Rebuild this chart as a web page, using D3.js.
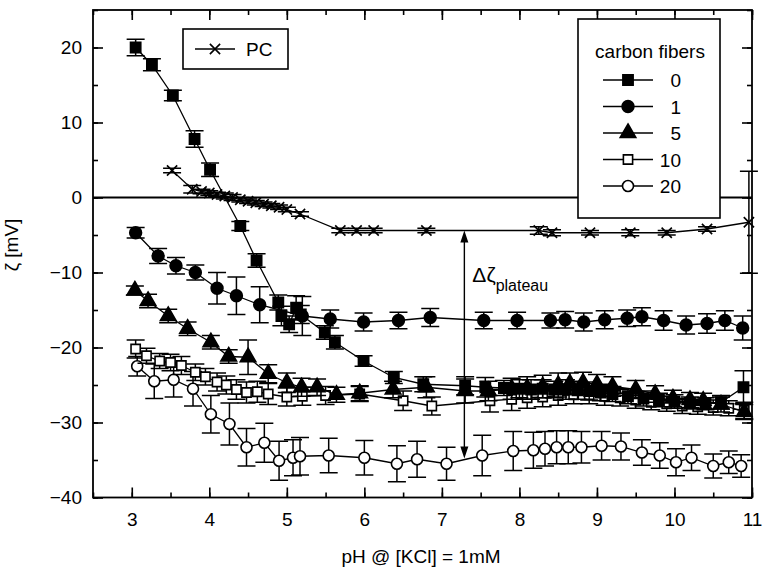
<!DOCTYPE html>
<html>
<head>
<meta charset="utf-8">
<script src="https://cdn.jsdelivr.net/npm/d3@7"></script>
<style>
body { margin: 0; background: #fff; }
text { font-family: "Liberation Sans", Arial, sans-serif; fill: #000; }
</style>
</head>
<body>
<script>
// data: pH, zeta [mV], error [mV]
var ph0 = [3.05,3.26,3.53,3.81,4.01,4.40,4.61,4.89,4.93,5.03,5.12,5.18,5.49,5.62,5.99,6.38,6.76,7.30,7.56,7.80,8.00,8.15,8.30,8.45,8.60,8.75,8.90,9.05,9.20,9.40,9.60,9.80,10.00,10.20,10.40,10.60,10.89];
var zeta0 = [20.0,17.7,13.6,7.8,3.7,-3.8,-8.4,-14.0,-15.8,-16.9,-14.7,-15.6,-18.0,-19.3,-21.8,-24.0,-24.9,-25.1,-25.3,-25.4,-25.5,-25.6,-25.5,-25.6,-25.6,-25.7,-25.8,-26.0,-26.2,-26.5,-26.8,-27.0,-27.2,-27.4,-27.5,-27.3,-25.3];
var err0 = [1.1,0.8,0.7,1.1,0.9,0.6,0.9,1.0,1.3,1.1,1.6,1.2,0.9,0.9,0.7,0.8,1.0,1.2,1.3,1.0,1.2,1.3,1.2,1.1,1.3,1.2,1.2,1.1,1.0,1.0,1.0,0.9,0.9,0.8,0.8,0.9,2.2];

var ph1 = [3.05,3.34,3.57,3.82,4.10,4.35,4.65,5.20,5.56,5.99,6.44,6.85,7.54,7.97,8.40,8.59,8.83,9.10,9.39,9.58,9.86,10.15,10.42,10.65,10.88];
var zeta1 = [-4.7,-7.8,-9.1,-10.0,-12.1,-13.1,-14.3,-15.8,-16.2,-16.6,-16.4,-16.0,-16.4,-16.4,-16.4,-16.3,-16.6,-16.3,-16.1,-15.9,-16.4,-17.0,-16.8,-16.4,-17.4];
var err1 = [0.7,1.0,1.1,1.0,2.1,2.5,2.4,2.6,1.2,1.2,1.1,1.2,1.1,1.1,1.0,1.1,1.2,1.2,1.1,1.2,1.3,1.2,1.3,1.3,1.6];

var ph5 = [3.04,3.21,3.47,3.72,4.02,4.25,4.50,4.76,5.00,5.19,5.39,5.64,5.94,6.37,6.80,7.30,7.60,7.90,8.10,8.30,8.50,8.65,8.82,9.00,9.20,9.50,9.75,9.98,10.20,10.37,10.60,10.90];
var zeta5 = [-12.4,-13.8,-15.8,-17.5,-19.3,-21.2,-21.3,-23.5,-24.7,-25.3,-25.3,-26.3,-26.1,-25.6,-25.3,-25.8,-25.8,-25.5,-25.4,-25.2,-25.0,-24.8,-24.7,-24.9,-25.2,-25.6,-26.2,-26.8,-27.0,-27.1,-27.6,-28.6];
var err5 = [0.6,0.9,0.9,0.9,0.9,0.9,2.3,1.2,1.3,1.2,1.1,1.0,1.0,1.1,1.4,1.6,1.3,1.4,1.5,1.5,1.6,1.4,1.4,1.3,1.3,1.2,1.1,1.1,1.0,1.0,1.0,1.0];

var ph10 = [3.05,3.19,3.36,3.50,3.64,3.82,3.95,4.10,4.22,4.35,4.48,4.62,4.76,5.00,5.20,5.50,5.94,6.50,6.87,7.62,7.90,8.10,8.30,8.50,8.70,8.90,9.10,9.30,9.50,9.70,9.90,10.10,10.30,10.50,10.70,10.90];
var zeta10 = [-20.2,-21.1,-21.8,-22.0,-22.4,-23.3,-23.9,-24.6,-25.0,-25.6,-26.0,-25.9,-26.2,-26.6,-26.5,-26.4,-26.2,-27.1,-27.8,-27.1,-26.9,-26.7,-26.6,-26.4,-26.3,-26.3,-26.5,-26.7,-27.0,-27.3,-27.5,-27.8,-27.9,-28.0,-28.1,-28.4];
var err10 = [1.2,1.0,1.0,1.1,1.2,1.1,1.1,1.2,1.2,1.3,1.4,1.4,1.4,1.2,1.2,1.2,1.0,1.3,1.2,1.5,1.5,1.4,1.3,1.3,1.2,1.2,1.2,1.1,1.1,1.0,1.0,1.0,1.0,1.0,1.0,1.1];

var ph20 = [3.07,3.29,3.54,3.79,4.02,4.26,4.48,4.71,4.90,5.08,5.17,5.54,6.00,6.42,6.68,7.06,7.52,7.92,8.18,8.33,8.48,8.63,8.80,9.06,9.31,9.58,9.81,10.02,10.22,10.50,10.70,10.86];
var zeta20 = [-22.5,-24.5,-24.3,-25.5,-28.9,-30.2,-33.3,-32.7,-35.1,-34.7,-34.5,-34.4,-34.7,-35.5,-34.9,-35.5,-34.4,-33.8,-33.7,-33.5,-33.3,-33.3,-33.3,-33.1,-33.2,-34.0,-34.4,-35.3,-34.7,-35.8,-35.3,-35.8];
var err20 = [1.3,2.3,2.3,2.3,2.5,2.8,2.5,2.6,2.6,2.4,2.5,2.3,2.3,2.4,2.4,2.2,2.7,2.6,2.4,2.3,2.2,2.2,2.1,1.9,1.8,1.7,1.7,1.8,1.7,1.6,1.5,1.5];

var phPC = [3.52,3.78,3.90,4.00,4.10,4.20,4.30,4.40,4.50,4.60,4.70,4.80,4.90,5.00,5.17,5.69,5.90,6.12,6.80,8.25,8.42,8.91,9.43,9.90,10.42,10.96];
var zetaPC = [3.6,1.1,0.8,0.6,0.4,0.2,0.0,-0.3,-0.5,-0.7,-0.9,-1.1,-1.3,-1.6,-2.2,-4.4,-4.4,-4.4,-4.4,-4.4,-4.7,-4.7,-4.7,-4.7,-4.2,-3.3];
var errPC = [0.3,0.5,0.3,0.3,0.3,0.4,0.4,0.3,0.3,0.3,0.3,0.3,0.3,0.3,0.3,0.3,0.3,0.3,0.3,0.5,0.4,0.3,0.4,0.3,0.3,6.8];

var fiberNames = ["0", "1", "5", "10", "20"];
var xTicks = [3, 4, 5, 6, 7, 8, 9, 10, 11];
var yTicks = [-40, -30, -20, -10, 0, 10, 20];

// the delta-zeta arrow
var deltaPH = 7.29, deltaTop = -4.4, deltaBottom = -34.8;

var W = 765, H = 568;
var pLeft = 93, pRight = 752, pTop = 10, pBottom = 497.5;

var svg = d3.select("body").append("svg")
  .attr("width", W)
  .attr("height", H);

var x = d3.scaleLinear().domain([2.5, 11]).range([pLeft, pRight]);
var y = d3.scaleLinear().domain([-40, 25]).range([pBottom, pTop]);

function rows(ph, z, e) {
  return ph.map(function(p, i) { return {x: p, y: z[i], e: e[i]}; });
}

var series = [
  {name: "20", data: rows(ph20, zeta20, err20), shape: d3.symbolCircle, size: 95, fill: "#fff"},
  {name: "10", data: rows(ph10, zeta10, err10), shape: d3.symbolSquare, size: 85, fill: "#fff"},
  {name: "5", data: rows(ph5, zeta5, err5), shape: d3.symbolTriangle, size: 105, fill: "#000"},
  {name: "1", data: rows(ph1, zeta1, err1), shape: d3.symbolCircle, size: 110, fill: "#000"},
  {name: "0", data: rows(ph0, zeta0, err0), shape: d3.symbolSquare, size: 105, fill: "#000"},
  {name: "PC", data: rows(phPC, zetaPC, errPC), shape: d3.symbolX, size: 70, fill: "none"}
];

// zero line
svg.append("line")
  .attr("x1", pLeft).attr("x2", pRight)
  .attr("y1", y(0)).attr("y2", y(0))
  .attr("stroke", "#000").attr("stroke-width", 1.8);

var line = d3.line().x(function(d) { return x(d.x); }).y(function(d) { return y(d.y); });
var cap = 9;

series.forEach(function(s) {
  var g = svg.append("g");
  g.append("path")
    .attr("d", line(s.data))
    .attr("fill", "none")
    .attr("stroke", "#000")
    .attr("stroke-width", 1.3);

  var eb = g.selectAll(".eb").data(s.data).enter().append("g");
  eb.append("line")
    .attr("x1", function(d) { return x(d.x); }).attr("x2", function(d) { return x(d.x); })
    .attr("y1", function(d) { return y(d.y - d.e); }).attr("y2", function(d) { return y(d.y + d.e); });
  eb.append("line")
    .attr("x1", function(d) { return x(d.x) - cap; }).attr("x2", function(d) { return x(d.x) + cap; })
    .attr("y1", function(d) { return y(d.y + d.e); }).attr("y2", function(d) { return y(d.y + d.e); });
  eb.append("line")
    .attr("x1", function(d) { return x(d.x) - cap; }).attr("x2", function(d) { return x(d.x) + cap; })
    .attr("y1", function(d) { return y(d.y - d.e); }).attr("y2", function(d) { return y(d.y - d.e); });
  eb.selectAll("line").attr("stroke", "#000").attr("stroke-width", 1.5);

  g.selectAll(".m").data(s.data).enter().append("path")
    .attr("transform", function(d) { return "translate(" + x(d.x) + "," + y(d.y) + ")"; })
    .attr("d", d3.symbol().type(s.shape).size(s.size))
    .attr("fill", s.fill)
    .attr("stroke", "#000")
    .attr("stroke-width", 1.6);
});

// axes, ticks pointing inward on all four sides
var xMinor = d3.range(2.5, 11.01, 0.5);
var yMinor = d3.range(-40, 25.01, 5);

function styleAxis(g) {
  g.select(".domain").remove();
  g.selectAll("line").attr("stroke", "#000").attr("stroke-width", 1.6);
  g.selectAll("text").style("font-family", "Liberation Sans, Arial, sans-serif").style("font-size", "19px").attr("fill", "#000");
}

svg.append("g").attr("transform", "translate(0," + pBottom + ")")
  .call(d3.axisBottom(x).tickValues(xMinor).tickSize(-5).tickFormat("")).call(styleAxis);
svg.append("g").attr("transform", "translate(0," + pBottom + ")")
  .call(d3.axisBottom(x).tickValues(xTicks).tickSize(-10).tickPadding(15).tickFormat(d3.format("d"))).call(styleAxis);
svg.append("g").attr("transform", "translate(0," + pTop + ")")
  .call(d3.axisTop(x).tickValues(xMinor).tickSize(-5).tickFormat("")).call(styleAxis);
svg.append("g").attr("transform", "translate(0," + pTop + ")")
  .call(d3.axisTop(x).tickValues(xTicks).tickSize(-10).tickFormat("")).call(styleAxis);

svg.append("g").attr("transform", "translate(" + pLeft + ",0)")
  .call(d3.axisLeft(y).tickValues(yMinor).tickSize(-5).tickFormat("")).call(styleAxis);
svg.append("g").attr("transform", "translate(" + pLeft + ",0)")
  .call(d3.axisLeft(y).tickValues(yTicks).tickSize(-10).tickPadding(11).tickFormat(d3.format("d"))).call(styleAxis);
svg.append("g").attr("transform", "translate(" + pRight + ",0)")
  .call(d3.axisRight(y).tickValues(yMinor).tickSize(-5).tickFormat("")).call(styleAxis);
svg.append("g").attr("transform", "translate(" + pRight + ",0)")
  .call(d3.axisRight(y).tickValues(yTicks).tickSize(-10).tickFormat("")).call(styleAxis);

svg.append("rect")
  .attr("x", pLeft).attr("y", pTop)
  .attr("width", pRight - pLeft).attr("height", pBottom - pTop)
  .attr("fill", "none").attr("stroke", "#000").attr("stroke-width", 1.8);

// axis titles
svg.append("text")
  .attr("x", 421).attr("y", 563)
  .attr("text-anchor", "middle")
  .style("font-size", "19px")
  .text("pH @ [KCl] = 1mM");

svg.append("text")
  .attr("transform", "translate(18,245) rotate(-90)")
  .attr("text-anchor", "middle")
  .style("font-size", "19px")
  .text("ζ [mV]");

// delta zeta arrow
var ax = x(deltaPH);
svg.append("line")
  .attr("x1", ax).attr("x2", ax)
  .attr("y1", y(deltaTop) + 8).attr("y2", y(deltaBottom) - 8)
  .attr("stroke", "#000").attr("stroke-width", 1.4);
svg.append("path")
  .attr("d", "M" + ax + "," + y(deltaTop) + "l-4,12h8z")
  .attr("fill", "#000");
svg.append("path")
  .attr("d", "M" + ax + "," + y(deltaBottom) + "l-4,-12h8z")
  .attr("fill", "#000");
var dz = svg.append("text").attr("x", ax + 8).attr("y", 282).style("font-size", "21px");
dz.append("tspan").text("Δζ");
dz.append("tspan").attr("dy", 9).style("font-size", "16px").text("plateau");

// legend: carbon fibers
var leg = svg.append("g");
leg.append("rect")
  .attr("x", 578).attr("y", 19).attr("width", 142).attr("height", 199)
  .attr("fill", "#fff").attr("stroke", "#000").attr("stroke-width", 1.6);
leg.append("text")
  .attr("x", 650).attr("y", 58)
  .attr("text-anchor", "middle")
  .style("font-size", "19px")
  .text("carbon fibers");

var legRows = fiberNames.map(function(n) {
  return series.filter(function(s) { return s.name === n; })[0];
});
var ly = d3.scalePoint().domain(fiberNames).range([80, 186]);
legRows.forEach(function(s) {
  var cy = ly(s.name);
  leg.append("line")
    .attr("x1", 603).attr("x2", 653).attr("y1", cy).attr("y2", cy)
    .attr("stroke", "#000").attr("stroke-width", 1.3);
  leg.append("path")
    .attr("transform", "translate(628," + cy + ")")
    .attr("d", d3.symbol().type(s.shape).size(s.size))
    .attr("fill", s.fill).attr("stroke", "#000").attr("stroke-width", 1.6);
  leg.append("text")
    .attr("x", 681).attr("y", cy + 7)
    .attr("text-anchor", "end")
    .style("font-size", "19px")
    .text(s.name);
});

// legend: PC
var pc = series[5];
var lp = svg.append("g");
lp.append("rect")
  .attr("x", 183).attr("y", 29).attr("width", 105).attr("height", 40)
  .attr("fill", "#fff").attr("stroke", "#000").attr("stroke-width", 1.6);
lp.append("line")
  .attr("x1", 195).attr("x2", 235).attr("y1", 49).attr("y2", 49)
  .attr("stroke", "#000").attr("stroke-width", 1.3);
lp.append("path")
  .attr("transform", "translate(215,49)")
  .attr("d", d3.symbol().type(pc.shape).size(pc.size))
  .attr("fill", "none").attr("stroke", "#000").attr("stroke-width", 1.6);
lp.append("text")
  .attr("x", 246).attr("y", 56)
  .style("font-size", "19px")
  .text("PC");
</script>
</body>
</html>
